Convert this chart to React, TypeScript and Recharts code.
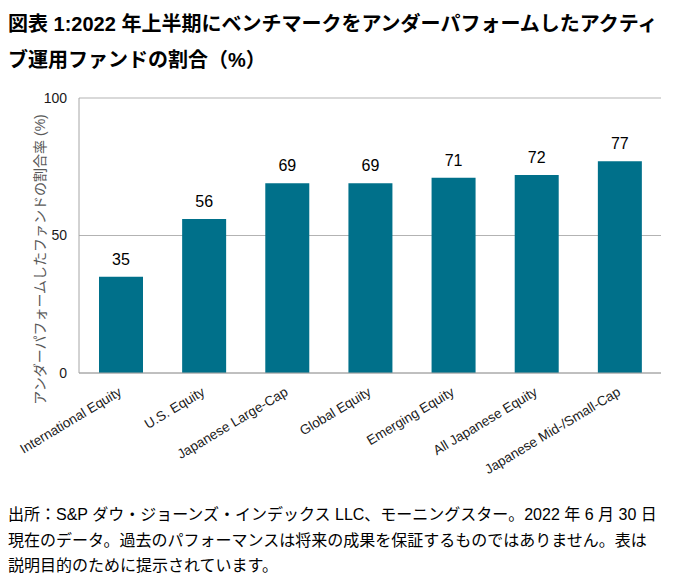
import React from 'react';
import { BarChart, Bar, XAxis, YAxis, CartesianGrid, LabelList } from 'recharts';

const categories = [
  'International Equity',
  'U.S. Equity',
  'Japanese Large-Cap',
  'Global Equity',
  'Emerging Equity',
  'All Japanese Equity',
  'Japanese Mid-/Small-Cap',
];
const underperformPct = [35, 56, 69, 69, 71, 72, 77];
const yTicks = [0, 50, 100];

const titleLines = [
  '図表 1:2022 年上半期にベンチマークをアンダーパフォームしたアクティ',
  'ブ運用ファンドの割合（%）',
];
const yAxisTitle = 'アンダーパフォームしたファンドの割合率 (%)';
const footerLines = [
  '出所：S&P ダウ・ジョーンズ・インデックス LLC、モーニングスター。2022 年 6 月 30 日',
  '現在のデータ。過去のパフォーマンスは将来の成果を保証するものではありません。表は',
  '説明目的のために提示されています。',
];

const data = categories.map((name, i) => ({ name, value: underperformPct[i] }));

const FONT = '"Liberation Sans", Arial, "Noto Sans CJK JP", sans-serif';

const RotatedTick = (props: any) => {
  const { x, y, payload } = props;
  return (
    <g transform={`translate(${x},${y + 10})`}>
      <text
        x={0}
        y={0}
        dy={4}
        textAnchor="end"
        transform="rotate(-31)"
        fontSize={13.5}
        fill="#1a1a1a"
        fontFamily={FONT}
      >
        {payload.value}
      </text>
    </g>
  );
};

const YTitle = (props: any) => {
  const { viewBox } = props;
  const cx = viewBox.x + 40;
  const cy = viewBox.y + viewBox.height / 2 + 24;
  return (
    <text
      x={cx}
      y={cy}
      textAnchor="middle"
      dominantBaseline="central"
      transform={`rotate(-90, ${cx}, ${cy})`}
      fontSize={14}
      fill="#595959"
      fontFamily={FONT}
    >
      {yAxisTitle}
    </text>
  );
};

export default function App() {
  return (
    <div
      style={{
        position: 'absolute',
        left: 0,
        top: 0,
        width: 673,
        height: 586,
        background: '#fff',
        fontFamily: FONT,
      }}
    >
      <div style={{ position: 'absolute', left: 8, top: 6, fontSize: 20, fontWeight: 'bold', color: '#000', lineHeight: '36px', whiteSpace: 'nowrap' }}>
        {titleLines.map((t) => (
          <div key={t}>{t}</div>
        ))}
      </div>
      <div style={{ position: 'absolute', left: 0, top: 80 }}>
        <BarChart
          width={673}
          height={400}
          data={data}
          margin={{ top: 18, right: 12, left: 0, bottom: 0 }}
          barSize={44}
        >
          <CartesianGrid vertical={false} stroke="#b3b3b3" />
          <XAxis
            dataKey="name"
            interval={0}
            tickLine={false}
            axisLine={{ stroke: '#a6a6a6' }}
            tick={<RotatedTick />}
            height={107}
          />
          <YAxis
            domain={[0, 100]}
            ticks={yTicks}
            width={79}
            tickLine={false}
            axisLine={{ stroke: '#a6a6a6' }}
            tick={{ fontSize: 14, fill: '#1a1a1a', fontFamily: FONT }}
            tickMargin={6}
            label={<YTitle />}
          />
          <Bar dataKey="value" fill="#00708A" isAnimationActive={false}>
            <LabelList dataKey="value" position="top" offset={12} fontSize={16} fill="#000" fontFamily={FONT} />
          </Bar>
        </BarChart>
      </div>
      <div style={{ position: 'absolute', left: 8, top: 502, fontSize: 16, color: '#000', lineHeight: '25.5px', whiteSpace: 'nowrap' }}>
        {footerLines.map((t) => (
          <div key={t}>{t}</div>
        ))}
      </div>
    </div>
  );
}
